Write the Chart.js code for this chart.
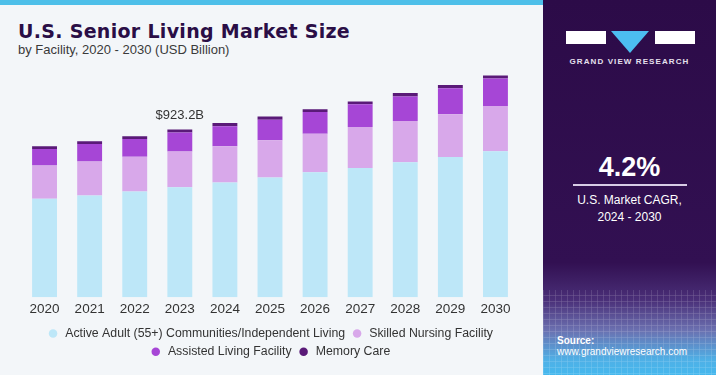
<!DOCTYPE html>
<html><head><meta charset="utf-8">
<script src="https://cdn.jsdelivr.net/npm/chart.js@4"></script>
<style>
html,body{margin:0;padding:0;width:720px;height:375px;overflow:hidden;background:#ffffff;font-family:"Liberation Sans",Arial,sans-serif;}
#left{position:absolute;left:0;top:0;width:543px;height:375px;background:#f3f6f9;}
#strip{position:absolute;left:0;top:0;width:543px;height:5px;background:#4dbfe9;}
#title{position:absolute;left:18px;top:20px;font-family:"DejaVu Sans",sans-serif;font-size:19px;font-weight:bold;color:#2a0e46;letter-spacing:0.3px;}
#sub{position:absolute;left:18px;top:42px;font-size:13px;color:#3a3a3a;}
#wrap{position:absolute;left:0;top:0;width:540px;height:375px;}
#panel{position:absolute;left:543px;top:0;width:173px;height:375px;
 background:linear-gradient(180deg,#2c0b48 0%,#321052 70%,#4a2f78 80%,#6b70b0 88%,#4fb0e6 96%,#45b8ee 100%);}
#grid{position:absolute;left:0;top:290px;width:173px;height:85px;opacity:0.25;
 background-image:linear-gradient(90deg,rgba(255,255,255,.5) 1px,transparent 1px),linear-gradient(0deg,rgba(255,255,255,.5) 1px,transparent 1px);
 background-size:6px 6px;}
.lr{position:absolute;top:31px;height:13px;background:#ffffff;}
#tri{position:absolute;left:68px;top:31px;width:0;height:0;border-left:19px solid transparent;border-right:19px solid transparent;border-top:22px solid #4cbdf0;}
#gvr{position:absolute;left:0;width:173px;top:57px;text-align:center;font-size:8px;font-weight:bold;color:#e6e0ee;letter-spacing:1.1px;}
#cagr{position:absolute;left:0;width:173px;top:152px;text-align:center;font-size:27px;font-weight:bold;color:#ffffff;}
#line{position:absolute;left:30px;top:184px;width:114px;height:2px;background:#d8cce6;}
#cagrt{position:absolute;left:0;width:173px;top:192px;text-align:center;font-size:12px;line-height:17px;color:#ffffff;}
#src{position:absolute;left:14px;top:335px;font-size:10px;line-height:11px;color:#ffffff;font-weight:bold;}
#src span{font-weight:normal;}
</style></head>
<body>
<div id="left"></div>
<div id="strip"></div>
<div id="title">U.S. Senior Living Market Size</div>
<div id="sub">by Facility, 2020 - 2030 (USD Billion)</div>
<div id="wrap"><canvas id="c" width="540" height="375"></canvas></div>
<div id="panel">
 <div id="grid"></div>
 <div class="lr" style="left:23px;width:40px;"></div>
 <div id="tri"></div>
 <div class="lr" style="left:112px;width:40px;"></div>
 <div id="gvr">GRAND VIEW RESEARCH</div>
 <div id="cagr">4.2%</div>
 <div id="line"></div>
 <div id="cagrt">U.S. Market CAGR,<br>2024 - 2030</div>
 <div id="src">Source:<br><span>www.grandviewresearch.com</span></div>
</div>
<script>
const years = ["2020","2021","2022","2023","2024","2025","2026","2027","2028","2029","2030"];
const activeAdult = [541,559,581,605,631,659,687,711,742,771,803];
const skilledNursing = [184,188,192,196,199,205,212,225,227,235,249];
const assistedLiving = [90,96,97,105,111,112,120,126,135,144,151];
const memoryCare = [15,15,15,17,17,18,15,14,19,18,17];
const seriesNames = ["Active Adult (55+) Communities/Independent Living","Skilled Nursing Facility","Assisted Living Facility","Memory Care"];
const seriesColors = ["#bde7f8","#d8a8ea","#a646d6","#5a1a78"];
const annotatedIndex = 3;
const annotationText = "$923.2B";

const labelPlugin = {
  id:'totalLabel',
  afterDatasetsDraw(chart){
    const ctx = chart.ctx;
    const meta = chart.getDatasetMeta(3);
    const el = meta.data[annotatedIndex];
    ctx.save();
    ctx.font = '13px "Liberation Sans", Arial, sans-serif';
    ctx.fillStyle = '#333333';
    ctx.textAlign = 'center';
    ctx.textBaseline = 'bottom';
    ctx.fillText(annotationText, el.x, el.y - 8);
    ctx.restore();
  }
};

const data = [activeAdult, skilledNursing, assistedLiving, memoryCare];
new Chart(document.getElementById('c'), {
  type:'bar',
  data:{
    labels: years,
    datasets: data.map((d,i)=>({label:seriesNames[i], data:d, backgroundColor:seriesColors[i], borderWidth:0,
      barPercentage:0.92, categoryPercentage:0.6}))
  },
  options:{
    responsive:false, animation:false,
    layout:{padding:{left:22, right:22, top:60, bottom:7}},
    scales:{
      x:{stacked:true, grid:{display:false, drawTicks:false}, border:{display:false},
         ticks:{color:'#333333', font:{size:13.5, family:'"Liberation Sans", Arial, sans-serif'}, padding:4}},
      y:{stacked:true, display:false, min:0, max:1305}
    },
    plugins:{
      legend:{position:'bottom', labels:{usePointStyle:true, pointStyle:'circle', boxWidth:12, boxHeight:6, padding:6,
        color:'#333333', font:{size:12.3, family:'"Liberation Sans", Arial, sans-serif'}}},
      tooltip:{enabled:false}
    }
  },
  plugins:[labelPlugin]
});
</script>
</body></html>
